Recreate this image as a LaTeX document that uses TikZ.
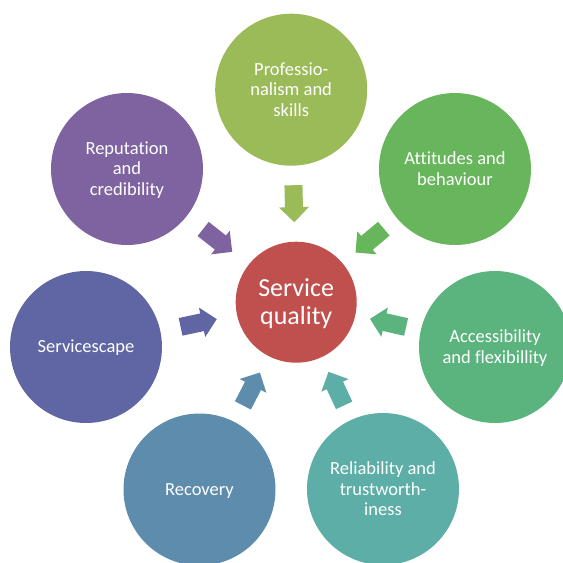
\documentclass[tikz,border=0pt]{standalone}
\usepackage{fontspec}
\setmainfont{Carlito}[Ligatures=NoCommon]
\usetikzlibrary{calc}
\definecolor{cCen}{HTML}{C0504D}
\definecolor{cPro}{HTML}{9BBB59}
\definecolor{cAtt}{HTML}{68B65C}
\definecolor{cAcc}{HTML}{5BB37D}
\definecolor{cRel}{HTML}{5CAEA6}
\definecolor{cRec}{HTML}{5E8CAC}
\definecolor{cSer}{HTML}{6066A4}
\definecolor{cRep}{HTML}{7F63A1}
\tikzset{
  outercirc/.style={circle, minimum size=152pt, inner sep=0pt, text=white, align=center,
    font=\fontsize{18.5}{20.5}\selectfont},
  centercirc/.style={circle, minimum size=121pt, inner sep=0pt, fill=cCen, text=white, align=center,
    font=\fontsize{26}{28.5}\selectfont},
}
\newcommand\st{\rule[-0.15em]{0pt}{0.95em}}
% block arrow from outer node #1 towards centre node c, colour #2
\newcommand\blockarrow[2]{%
  \coordinate (e1) at ($(#1.center)!76pt!(c.center)$);
  \coordinate (e2) at ($(c.center)!60.5pt!(#1.center)$);
  \coordinate (m) at ($(e1)!0.5!(e2)$);
  \coordinate (t0) at ($(m)!18.5pt!(e1)$);
  \coordinate (tp) at ($(m)!18.5pt!(e2)$);
  \coordinate (hb) at ($(m)!3.5pt!(e2)$);
  \fill[#2] ($(t0)!9pt!90:(tp)$) -- ($(hb)!9pt!90:(tp)$) -- ($(hb)!15pt!90:(tp)$) -- (tp)
    -- ($(hb)!15pt!-90:(tp)$) -- ($(hb)!9pt!-90:(tp)$) -- ($(t0)!9pt!-90:(tp)$) -- cycle;
}
\begin{document}
\begin{tikzpicture}[x=1pt,y=-1pt]
\useasboundingbox (0,0) rectangle (563,563);
\node[centercirc] (c) at (296.2,302.2) {\st Service\\\st quality};
\node[outercirc, fill=cPro] (pro) at (291.2,89.7) {\st Professio-\\\st nalism and\\\st skills};
\node[outercirc, fill=cAtt] (att) at (455,169) {\st Attitudes and\\\st behaviour};
\node[outercirc, fill=cAcc] (acc) at (495,347) {\st Accessibility\\\st and flexibillity};
\node[outercirc, fill=cRel] (rel) at (383,489) {\st Reliability and\\\st trustworth-\\\st iness};
\node[outercirc, fill=cRec] (rec) at (199.5,489.5) {\st Recovery};
\node[outercirc, fill=cSer] (ser) at (86,347) {\st Servicescape};
\node[outercirc, fill=cRep] (rep) at (127,169) {\st Reputation\\\st and\\\st credibility};
\blockarrow{pro}{cPro}
\blockarrow{att}{cAtt}
\blockarrow{acc}{cAcc}
\blockarrow{rel}{cRel}
\blockarrow{rec}{cRec}
\blockarrow{ser}{cSer}
\blockarrow{rep}{cRep}
\end{tikzpicture}
\end{document}
